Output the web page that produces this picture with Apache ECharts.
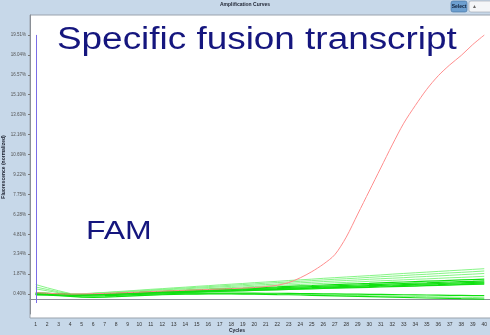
<!DOCTYPE html>
<html>
<head>
<meta charset="utf-8">
<script src="https://cdn.jsdelivr.net/npm/echarts@6/dist/echarts.min.js"></script>
<style>
  html, body { margin: 0; padding: 0; background: #c7d8e9; }
  #chart { width: 490px; height: 335px; }
</style>
</head>
<body>
<div id="chart"></div>
<script>
// PCR cycle numbers (x axis categories)
const cycles = ['1','2','3','4','5','6','7','8','9','10',
  '11','12','13','14','15','16','17','18','19','20',
  '21','22','23','24','25','26','27','28','29','30',
  '31','32','33','34','35','36','37','38','39','40'];

// Fluorescence tick labels (evenly spaced, 1.47 apart, starting at 0.40)
const yTickLabels = ['0.40%','1.87%','3.34%','4.81%','6.28%','7.75%','9.22%',
  '10.69%','12.16%','13.63%','15.10%','16.57%','18.04%','19.51%'];

// Positive sample: fusion transcript amplification (red)
const fusionPositive = [
  0.50, 0.46, 0.42, 0.40, 0.41, 0.43, 0.45, 0.48, 0.51, 0.54,
  0.58, 0.62, 0.65, 0.68, 0.71, 0.74, 0.77, 0.80, 0.84, 0.88,
  0.95, 1.05, 1.25, 1.60, 2.05, 2.60, 3.30, 4.60, 6.30, 8.00,
  9.70, 11.40, 13.00, 14.30, 15.50, 16.50, 17.30, 18.00, 18.80, 19.50];

// Negative wells (green, FAM), drifting baselines
const wellA = [
  1.10, 0.86, 0.64, 0.44, 0.42, 0.47, 0.52, 0.58, 0.63, 0.69,
  0.75, 0.80, 0.86, 0.91, 0.97, 1.02, 1.08, 1.13, 1.18, 1.24,
  1.29, 1.34, 1.40, 1.45, 1.50, 1.56, 1.61, 1.66, 1.71, 1.76,
  1.81, 1.87, 1.92, 1.97, 2.02, 2.07, 2.12, 2.17, 2.22, 2.27];
const wellB = [
  0.92, 0.74, 0.56, 0.42, 0.41, 0.45, 0.50, 0.55, 0.60, 0.65,
  0.70, 0.75, 0.80, 0.85, 0.90, 0.95, 1.00, 1.05, 1.10, 1.15,
  1.20, 1.25, 1.29, 1.34, 1.39, 1.44, 1.49, 1.53, 1.58, 1.63,
  1.68, 1.72, 1.77, 1.82, 1.86, 1.91, 1.96, 2.00, 2.05, 2.10];
const wellC = [
  0.78, 0.64, 0.50, 0.40, 0.40, 0.44, 0.48, 0.53, 0.57, 0.62,
  0.66, 0.71, 0.75, 0.79, 0.84, 0.88, 0.93, 0.97, 1.01, 1.06,
  1.10, 1.14, 1.19, 1.23, 1.27, 1.32, 1.36, 1.40, 1.44, 1.49,
  1.53, 1.57, 1.61, 1.66, 1.70, 1.74, 1.78, 1.83, 1.87, 1.92];
const wellD = [
  0.52, 0.47, 0.42, 0.38, 0.36, 0.40, 0.44, 0.48, 0.52, 0.56,
  0.60, 0.64, 0.68, 0.72, 0.76, 0.80, 0.84, 0.88, 0.92, 0.96,
  1.00, 1.04, 1.07, 1.11, 1.15, 1.19, 1.23, 1.26, 1.30, 1.34,
  1.38, 1.41, 1.45, 1.49, 1.52, 1.56, 1.60, 1.63, 1.67, 1.71];
const wellE = [
  0.48, 0.45, 0.41, 0.37, 0.35, 0.38, 0.42, 0.45, 0.49, 0.52,
  0.56, 0.59, 0.63, 0.66, 0.70, 0.73, 0.77, 0.80, 0.83, 0.87,
  0.90, 0.93, 0.97, 1.00, 1.03, 1.07, 1.10, 1.13, 1.16, 1.19,
  1.23, 1.26, 1.29, 1.32, 1.35, 1.38, 1.41, 1.44, 1.47, 1.50];
const wellF = [
  0.45, 0.43, 0.40, 0.37, 0.36, 0.38, 0.41, 0.44, 0.47, 0.50,
  0.53, 0.56, 0.59, 0.62, 0.65, 0.68, 0.71, 0.74, 0.77, 0.80,
  0.83, 0.86, 0.89, 0.92, 0.95, 0.98, 1.01, 1.04, 1.07, 1.09,
  1.12, 1.15, 1.18, 1.21, 1.23, 1.26, 1.29, 1.32, 1.34, 1.37];
const wellG = [
  0.42, 0.41, 0.39, 0.36, 0.35, 0.37, 0.40, 0.43, 0.45, 0.48,
  0.51, 0.53, 0.56, 0.59, 0.61, 0.64, 0.67, 0.70, 0.72, 0.75,
  0.78, 0.80, 0.83, 0.86, 0.88, 0.91, 0.94, 0.96, 0.99, 1.02,
  1.04, 1.07, 1.10, 1.12, 1.15, 1.18, 1.20, 1.23, 1.26, 1.28];
const wellH = [
  0.40, 0.39, 0.37, 0.34, 0.33, 0.35, 0.38, 0.40, 0.43, 0.45,
  0.48, 0.50, 0.53, 0.55, 0.58, 0.60, 0.63, 0.65, 0.68, 0.70,
  0.73, 0.75, 0.78, 0.80, 0.83, 0.85, 0.88, 0.90, 0.93, 0.95,
  0.98, 1.00, 1.03, 1.05, 1.08, 1.10, 1.13, 1.15, 1.18, 1.20];
const wellI = [
  0.38, 0.37, 0.35, 0.33, 0.31, 0.33, 0.36, 0.38, 0.41, 0.43,
  0.46, 0.48, 0.50, 0.53, 0.55, 0.57, 0.60, 0.62, 0.64, 0.67,
  0.69, 0.71, 0.74, 0.76, 0.78, 0.81, 0.83, 0.85, 0.88, 0.90,
  0.92, 0.95, 0.97, 0.99, 1.02, 1.04, 1.06, 1.09, 1.11, 1.13];
const wellJ = [
  0.40, 0.38, 0.34, 0.30, 0.26, 0.26, 0.28, 0.31, 0.34, 0.37,
  0.40, 0.42, 0.44, 0.46, 0.47, 0.48, 0.48, 0.48, 0.47, 0.47,
  0.46, 0.46, 0.45, 0.44, 0.43, 0.42, 0.41, 0.40, 0.39, 0.38,
  0.37, 0.36, 0.35, 0.34, 0.33, 0.32, 0.31, 0.30, 0.29, 0.28];
const wellK = [
  0.36, 0.34, 0.30, 0.25, 0.20, 0.19, 0.21, 0.24, 0.28, 0.31,
  0.34, 0.37, 0.39, 0.41, 0.42, 0.43, 0.43, 0.43, 0.43, 0.42,
  0.41, 0.40, 0.39, 0.37, 0.36, 0.34, 0.33, 0.31, 0.30, 0.28,
  0.27, 0.25, 0.24, 0.22, 0.21, 0.19, 0.18, 0.16, 0.15, 0.13];
const wellL = [
  0.34, 0.32, 0.28, 0.23, 0.18, 0.16, 0.18, 0.21, 0.25, 0.29,
  0.32, 0.35, 0.37, 0.39, 0.40, 0.41, 0.41, 0.41, 0.40, 0.39,
  0.38, 0.36, 0.35, 0.33, 0.31, 0.29, 0.27, 0.25, 0.23, 0.21,
  0.19, 0.17, 0.15, 0.13, 0.11, 0.10, 0.08, 0.06, 0.05, 0.03];

const lightWells = [wellA, wellB, wellC, wellD, wellK];
const brightWells = [wellE, wellF, wellG, wellH, wellI, wellJ, wellL];

const chart = echarts.init(document.getElementById('chart'), null, { renderer: 'canvas' });

const series = [];
lightWells.forEach((d, i) => series.push({
  name: 'FAM light ' + i, type: 'line', data: d, symbol: 'none', silent: true,
  lineStyle: { color: '#86f586', width: 1 }, z: 2
}));
brightWells.forEach((d, i) => series.push({
  name: 'FAM ' + i, type: 'line', data: d, symbol: 'none', silent: true,
  lineStyle: { color: '#10e010', width: 1.2 }, z: 3
}));
series.push({
  name: 'Fusion', type: 'line', data: fusionPositive, symbol: 'none', silent: true,
  smooth: 0.3,
  lineStyle: { color: '#ff8e8e', width: 1 }, z: 4,
  markLine: {
    silent: true, symbol: 'none', animation: false,
    lineStyle: { color: '#7a6de6', width: 1, type: 'solid' },
    label: { show: false },
    data: [[{ coord: [0, 19.51] }, { coord: [0, -0.26] }]]
  }
});

chart.setOption({
  animation: false,
  backgroundColor: '#c7d8e9',
  grid: { left: 30, top: 15, width: 470, height: 299, containLabel: false },
  xAxis: {
    type: 'category', data: cycles, boundaryGap: true, offset: 4,
    axisLine: { lineStyle: { color: '#8a8f96', width: 1 } },
    axisTick: { alignWithLabel: true, length: 2, lineStyle: { color: '#777' } },
    axisLabel: { fontSize: 5, color: '#333', margin: 4, interval: 0, fontFamily: 'Liberation Sans' },
    splitLine: { show: false }
  },
  yAxis: {
    type: 'value', min: -1.07, max: 20.98, interval: 1.47,
    axisLine: { show: true, lineStyle: { color: '#8a8f96' } },
    axisTick: { show: true, length: 2, lineStyle: { color: '#777' } },
    axisLabel: {
      fontSize: 4.5, color: '#555', margin: 4, fontFamily: 'Liberation Sans',
      showMinLabel: false, showMaxLabel: false,
      formatter: v => {
        const i = Math.round((v - 0.4) / 1.47);
        return (i >= 0 && i < yTickLabels.length) ? yTickLabels[i] : '';
      }
    },
    splitLine: { show: false }
  },
  graphic: [
    // white plotting panel
    { type: 'rect', z: -10, shape: { x: 30, y: 15, width: 470, height: 303 },
      style: { fill: '#ffffff', stroke: '#9aa3ad', lineWidth: 1 } },
    // window title
    { type: 'text', x: 245, y: 5, style: { text: 'Amplification Curves', fontSize: 5,
      fontWeight: 'bold', fill: '#1d2230', align: 'center', verticalAlign: 'middle',
      fontFamily: 'Liberation Sans' } },
    // select button
    { type: 'rect', shape: { x: 451, y: 1, width: 16, height: 11, r: 2 },
      style: { fill: '#6d9fcf', stroke: '#3f6f9f', lineWidth: 0.6 } },
    { type: 'text', x: 459, y: 6.5, style: { text: 'Select', fontSize: 5, fontWeight: 'bold',
      fill: '#10203a', align: 'center', verticalAlign: 'middle', fontFamily: 'Liberation Sans' } },
    { type: 'rect', shape: { x: 469, y: 1, width: 24, height: 11, r: 2 },
      style: { fill: '#f4f6f8', stroke: '#9aa3ad', lineWidth: 0.6 } },
    { type: 'text', x: 472, y: 6.5, style: { text: '▲', fontSize: 5, fill: '#666',
      verticalAlign: 'middle' } },
    // axis titles
    { type: 'text', x: 237, y: 331, style: { text: 'Cycles', fontSize: 5, fontWeight: 'bold',
      fill: '#1d2230', align: 'center', verticalAlign: 'middle', fontFamily: 'Liberation Sans' } },
    { type: 'text', x: 4, y: 167, rotation: Math.PI / 2, style: { text: 'Fluorescence (normalized)',
      fontSize: 5, fontWeight: 'bold', fill: '#1d2230', align: 'center', verticalAlign: 'middle',
      fontFamily: 'Liberation Sans' } },
    // slide annotations
    { type: 'text', x: 57, y: 40, scaleX: 1.19, z: 20, style: { text: 'Specific fusion transcript',
      fontSize: 31, fill: '#15167e', verticalAlign: 'middle', fontFamily: 'Liberation Sans' } },
    { type: 'text', x: 86, y: 232, scaleX: 1.23, z: 20, style: { text: 'FAM',
      fontSize: 26, fill: '#15167e', verticalAlign: 'middle', fontFamily: 'Liberation Sans' } }
  ],
  series: series
});
</script>
</body>
</html>
